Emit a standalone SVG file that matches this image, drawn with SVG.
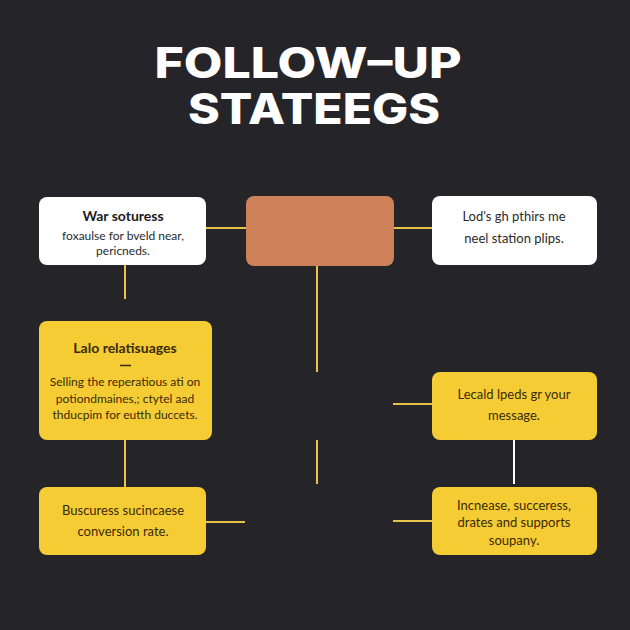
<svg xmlns="http://www.w3.org/2000/svg" width="630" height="630" viewBox="0 0 630 630">
<style>
.t{font-family:Inter,"Liberation Sans",sans-serif;font-weight:800;fill:#ffffff;font-size:42px}
.h{font-family:Lato,"Liberation Sans",sans-serif;font-weight:700;font-size:14px;fill:#1c1c1c}
.b{font-family:Lato,"Liberation Sans",sans-serif;font-size:12px;fill:#2a2a2a}
.m{font-family:Lato,"Liberation Sans",sans-serif;font-size:13px;fill:#2a2a2a}
.y{font-family:Lato,"Liberation Sans",sans-serif;fill:#3a2a08}
.w{fill:#ffffff}
.yl{fill:#f6cc35}
.c{stroke:#e6c24a;stroke-width:2;fill:none}
</style>
<rect width="630" height="630" fill="#252529"/>
<g id="title">
<text class="t" x="308" y="78" text-anchor="middle" textLength="307" lengthAdjust="spacingAndGlyphs">FOLLOW–UP</text>
<text class="t" x="314" y="124" text-anchor="middle" textLength="252" lengthAdjust="spacingAndGlyphs">STATEEGS</text>
</g>
<g id="connectors">
<line class="c" x1="206" y1="228" x2="246" y2="228"/>
<line class="c" x1="394" y1="228" x2="432" y2="228"/>
<line class="c" x1="125" y1="265" x2="125" y2="299"/>
<line class="c" x1="317" y1="266" x2="317" y2="372"/>
<line class="c" x1="393" y1="404" x2="432" y2="404"/>
<line class="c" x1="317" y1="440" x2="317" y2="484"/>
<line class="c" x1="125" y1="440" x2="125" y2="487"/>
<line x1="514" y1="440" x2="514" y2="484" stroke="#ffffff" stroke-width="2"/>
<line class="c" x1="206" y1="522" x2="245" y2="522"/>
<line class="c" x1="393" y1="521" x2="432" y2="521"/>
</g>
<g id="node-war">
<rect class="w" x="39" y="197" width="167" height="68" rx="8"/>
<text class="h" x="123" y="221" text-anchor="middle">War soturess</text>
<text class="b" x="123" y="240" text-anchor="middle">foxaulse for bveld near,</text>
<text class="b" x="123" y="255" text-anchor="middle">pericneds.</text>
</g>
<g id="node-center">
<rect x="246" y="196" width="148" height="70" rx="8" fill="#cf825a"/>
</g>
<g id="node-lods">
<rect class="w" x="432" y="196" width="165" height="69" rx="8"/>
<text class="m" x="514" y="221" text-anchor="middle">Lod's gh pthirs me</text>
<text class="m" x="514" y="243" text-anchor="middle">neel station plips.</text>
</g>
<g id="node-lalo">
<rect class="yl" x="39" y="321" width="173" height="119" rx="8"/>
<text class="y" x="125" y="353" text-anchor="middle" font-size="14" font-weight="700">Lalo relatisuages</text>
<line x1="120" y1="365.5" x2="131" y2="365.5" stroke="#3a2a08" stroke-width="1.5"/>
<text class="y" x="125" y="386" text-anchor="middle" font-size="12">Selling the reperatious ati on</text>
<text class="y" x="125" y="403" text-anchor="middle" font-size="12">potiondmaines,; ctytel aad</text>
<text class="y" x="125" y="419" text-anchor="middle" font-size="12">thducpim for eutth duccets.</text>
</g>
<g id="node-lecald">
<rect class="yl" x="432" y="372" width="165" height="68" rx="8"/>
<text class="y" x="514" y="399" text-anchor="middle" font-size="13">Lecald lpeds gr your</text>
<text class="y" x="514" y="420" text-anchor="middle" font-size="13">message.</text>
</g>
<g id="node-buscuress">
<rect class="yl" x="39" y="487" width="167" height="68" rx="8"/>
<text class="y" x="123" y="515" text-anchor="middle" font-size="13">Buscuress sucincaese</text>
<text class="y" x="123" y="536" text-anchor="middle" font-size="13">conversion rate.</text>
</g>
<g id="node-increase">
<rect class="yl" x="432" y="487" width="165" height="68" rx="8"/>
<text class="y" x="514" y="510" text-anchor="middle" font-size="13">Incnease, succeress,</text>
<text class="y" x="514" y="527" text-anchor="middle" font-size="13">drates and supports</text>
<text class="y" x="514" y="545" text-anchor="middle" font-size="13">soupany.</text>
</g>
</svg>
